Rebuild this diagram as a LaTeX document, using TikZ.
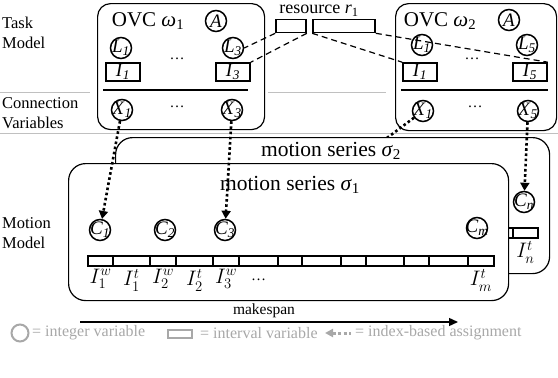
\RequirePackage{fix-cm}
\documentclass[tikz,border=0pt]{standalone}
\usepackage{fontspec}
\setmainfont{Liberation Serif}
\usetikzlibrary{arrows.meta,positioning}
\definecolor{LegendGray}{RGB}{168,168,168}
\definecolor{RuleGray}{RGB}{192,192,192}
\newcommand{\civ}[2]{\textit{#1}\textsubscript{\textit{#2}}}
\tikzset{
  ovcbox/.style={draw,rounded corners=13pt,line width=1.2pt,fill=white,inner sep=0pt},
  seriesbox/.style={draw,rounded corners=17pt,line width=1.2pt,fill=white,inner sep=0pt},
  intvar/.style={draw,circle,line width=1.5pt,minimum size=21pt,inner sep=-3pt,font=\fontsize{19}{19}\selectfont},
  ivlvar/.style={draw,line width=1.6pt,minimum width=34pt,minimum height=18pt,inner sep=0pt,font=\fontsize{19}{19}\selectfont},
  cell/.style={draw,line width=2pt,minimum height=10pt,inner sep=0pt,anchor=west},
  reslot/.style={draw,line width=1.6pt,minimum height=13pt,inner sep=0pt},
  resline/.style={line width=1.2pt,dash pattern=on 6pt off 4pt},
  assign/.style={line width=2.6pt,dash pattern=on 2.6pt off 2.6pt,-{Triangle[length=8pt,width=9pt]}},
  rowrule/.style={draw=RuleGray,line width=1pt},
  sidelabel/.style={align=left,anchor=north west,inner sep=0pt,font=\fontsize{16.5}{20}\selectfont},
  boxtitle/.style={inner sep=0pt,font=\fontsize{21}{21}\selectfont},
  seriestitle/.style={inner sep=0pt,font=\fontsize{21.5}{22}\selectfont},
  celllabel/.style={inner sep=0pt,anchor=north,font=\fontsize{21}{21}\selectfont},
  ellip/.style={inner sep=0pt,font=\fontsize{15}{15}\selectfont},
  legend/.style={inner sep=0pt,anchor=west,text=LegendGray,font=\fontsize{16}{16}\selectfont}
}

\begin{document}
\begin{tikzpicture}[x=1pt,y=-1pt]
\useasboundingbox (0,0) rectangle (558,378);

% row rules
\draw[rowrule] (0,92) -- (90,92);
\draw[rowrule] (268,92) -- (386,92);
\draw[rowrule] (0,133) -- (558,133);

\node[sidelabel] (tasklbl) at (2,17) {Task\\Model};
\node[sidelabel] (connlbl) at (2,97) {Connection\\Variables};
\node[sidelabel] (motlbl) at (2,217) {Motion\\Model};

% OVC omega_1
\node[ovcbox,anchor=north west,minimum width=167pt,minimum height=126pt] (ovc1) at (97,3) {};
\draw[line width=1.2pt] (103,90) -- (248,90);
\node[boxtitle] (ovc1t) at (148,21) {OVC \textit{ω}\textsubscript{1}};
\node[intvar] (wa) at (216,21) {\textit{A}};
\node[intvar] (wl1) at (121,48) {\civ{L}{1}};
\node[intvar] (wl3) at (233,48) {\civ{L}{3}};
\node[ivlvar] (wi1) at (123,72) {\civ{I}{1}};
\node[ivlvar] (wi3) at (233,72) {\civ{I}{3}};
\node[ellip] (wdots) at (177,59) {\dots};
\node[intvar] (wx1) at (122,110) {\civ{X}{1}};
\node[intvar] (wx3) at (232,110) {\civ{X}{3}};
\node[ellip] (wxdots) at (177,107) {\dots};

% OVC omega_2
\node[ovcbox,anchor=north west,minimum width=161pt,minimum height=127pt] (ovc2) at (395,3) {};
\draw[line width=1.2pt] (401,90) -- (548,90);
\node[boxtitle] (ovc2t) at (440,21) {OVC \textit{ω}\textsubscript{2}};
\node[intvar] (va) at (509,20) {\textit{A}};
\node[intvar] (vl1) at (422,45) {\civ{L}{1}};
\node[intvar] (vl5) at (527,45) {\civ{L}{5}};
\node[ivlvar] (vi1) at (420,72) {\civ{I}{1}};
\node[ivlvar] (vi5) at (530,72) {\civ{I}{5}};
\node[ellip] (vdots) at (472,59) {\dots};
\node[intvar] (vx1) at (423,111) {\civ{X}{1}};
\node[intvar] (vx5) at (528,111) {\civ{X}{5}};
\node[ellip] (vxdots) at (475,107) {\dots};

% resource r_1
\node[inner sep=0pt,font=\fontsize{18}{18}\selectfont] (restitle) at (319,10.5) {resource \textit{r}\textsubscript{1}};
\node[reslot,minimum width=30pt] (rs1) at (291,26) {};
\node[reslot,minimum width=62pt] (rs2) at (344,26) {};
\draw[resline] (rs1.south west) -- (wl3.east);
\draw[resline] (rs1.south east) -- (wi3.north east);
\draw[resline] (rs2.south west) -- (vi1.north west);
\draw[resline] (rs2.south east) -- (vi5.north east);

% hidden target of X_1 in omega_2
\coordinate (hidc) at (300,203);
\draw[assign] (vx1) -- (hidc);

% motion series sigma_2
\node[seriesbox,anchor=north west,minimum width=434pt,minimum height=136pt] (ser2) at (115,137) {};
\node[seriestitle] (ser2t) at (331,151) {motion series \textit{σ}\textsubscript{2}};
\node[intvar] (cn) at (524,202) {\civ{C}{n}};
\node[cell,minimum width=22pt] (cnprev) at (490,233) {};
\node[cell,minimum width=25pt] (cnlast) at (512,233) {};
\node[celllabel] at ([yshift=-2pt]cnlast.south) {$I^t_n$};

% motion series sigma_1
\node[seriesbox,anchor=north west,minimum width=440pt,minimum height=137pt] (ser1) at (68,163) {};
\node[seriestitle] (ser1t) at (290,185) {motion series \textit{σ}\textsubscript{1}};
\node[intvar] (c1) at (100,230) {\civ{C}{1}};
\node[intvar] (c2) at (165,230) {\civ{C}{2}};
\node[intvar] (c3) at (225,230) {\civ{C}{3}};
\node[intvar] (cm) at (477,228) {\civ{C}{m}};
\foreach \a/\b [count=\i] in {87/112,112/149,149/175,175/212,212/238,238/277,277/301,301/340,340/365,365/403,403/428,428/467,467/493}
  \node[cell,minimum width=\b-\a] (cell\i) at (\a,261) {};
\node[celllabel] at ([yshift=-2pt]cell1.south) {$I^w_1$};
\node[celllabel] at ([yshift=-2pt]cell2.south) {$I^t_1$};
\node[celllabel] at ([yshift=-2pt]cell3.south) {$I^w_2$};
\node[celllabel] at ([yshift=-2pt]cell4.south) {$I^t_2$};
\node[celllabel] at ([yshift=-2pt]cell5.south) {$I^w_3$};
\node[ellip,anchor=north] at ([yshift=-12pt]cell6.south) {\dots};
\node[celllabel] at ([yshift=-2pt]cell13.south) {$I^t_m$};

% index-based assignments
\draw[assign] (wx1) -- (c1);
\draw[assign] (wx3) -- (c3);
\draw[assign] (vx5) -- (cn);

% makespan
\coordinate (ms0) at (80,322);
\coordinate (ms1) at (458,322);
\draw[line width=1.4pt,-{Triangle[length=9pt,width=8pt]}] (ms0) -- (ms1);
\node[inner sep=0pt,font=\fontsize{15.5}{15.5}\selectfont] (mslbl) at (264,311) {makespan};

% legend
\node[draw=LegendGray,circle,line width=2pt,minimum size=17pt,inner sep=0pt] (lgc) at (20,333) {};
\node[legend] (lgct) at (32,333) {= integer variable};
\node[draw=LegendGray,line width=2pt,minimum width=24pt,minimum height=8pt,inner sep=0pt] (lgr) at (180,334) {};
\node[legend] (lgrt) at (200,333) {= interval variable};
\coordinate (lga0) at (325,333);
\coordinate (lga1) at (351,333);
\draw[LegendGray,line width=3pt,dash pattern=on 3pt off 2.5pt,{Triangle[length=8pt,width=8pt]}-] (lga0) -- (lga1);
\node[legend] (lgat) at (355,333) {= index-based assignment};
\end{tikzpicture}
\end{document}
